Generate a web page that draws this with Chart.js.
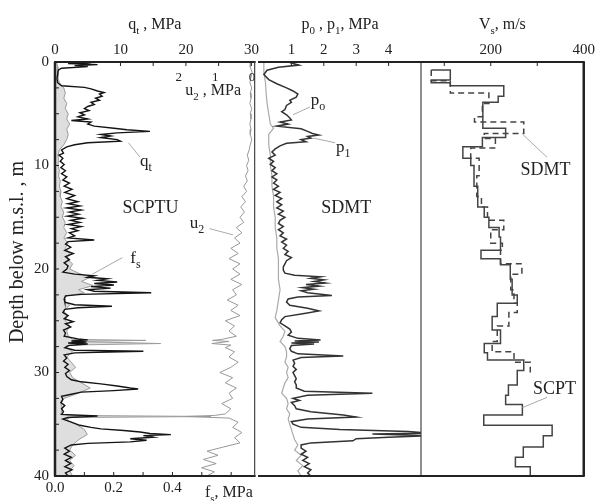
<!DOCTYPE html>
<html>
<head>
<meta charset="utf-8">
<script src="https://cdn.jsdelivr.net/npm/chart.js@4.4.1/dist/chart.umd.min.js"></script>
<style>
  html, body { margin: 0; padding: 0; background: #fff; }
  #wrap { position: relative; width: 598px; height: 501px; overflow: hidden; }
  #wrap canvas { position: absolute; top: 0; }
</style>
</head>
<body>
<div id="wrap">
  <canvas id="cptu" width="262" height="501" style="left:0"></canvas>
  <canvas id="dmt" width="170" height="501" style="left:255px"></canvas>
  <canvas id="vs" width="181" height="501" style="left:417px"></canvas>
</div>
<script>
// depth below m.s.l. (m)
const depthMarks = [0, 2.5, 5, 7.5, 10, 12.5, 15, 17.5, 20, 22.5, 25, 27.5, 30, 32.5, 35, 37.5, 40]
const depthLabels = [0, 10, 20, 30, 40]

// SCPTU: cone resistance qt (MPa)
const qtDepth = [0.05, 0.15, 0.25, 0.35, 0.45, 0.6, 0.8, 1.2, 1.6, 2.0, 2.3, 2.45, 2.6, 2.8, 2.95, 3.1, 3.3, 3.5, 3.7, 3.9,
  4.1, 4.3, 4.5, 4.7, 4.9, 5.1, 5.3, 5.5, 5.65, 5.8, 6.0, 6.2, 6.4, 6.55, 6.7, 6.85, 7.0, 7.15, 7.3, 7.5,
  7.65, 7.8, 8.0, 8.2, 8.5, 8.8, 9.0, 9.3, 9.6, 9.9, 10.2, 10.5, 10.8, 11.1, 11.4, 11.7, 12.0, 12.3, 12.6, 12.9,
  13.2, 13.5, 13.7, 13.9, 14.1, 14.3, 14.5, 14.7, 14.9, 15.1, 15.3, 15.5, 15.7, 15.9, 16.1, 16.3, 16.5, 16.8, 17.0, 17.2,
  17.35, 17.6, 17.9, 18.2, 18.5, 18.8, 19.1, 19.4, 19.7, 20.0, 20.3, 20.5, 20.65, 20.8, 20.95, 21.1, 21.25, 21.4, 21.55, 21.7,
  21.85, 22.0, 22.15, 22.3, 22.45, 22.6, 22.9, 23.2, 23.45, 23.6, 23.75, 23.9, 24.2, 24.5, 24.8, 25.1, 25.3, 25.6, 25.9, 26.2,
  26.5, 26.75, 26.85, 26.95, 27.05, 27.15, 27.25, 27.4, 27.6, 27.85, 27.95, 28.1, 28.3, 28.6, 28.9, 29.2, 29.5, 29.8, 30.1, 30.4,
  30.7, 30.9, 31.1, 31.3, 31.5, 31.6, 31.75, 31.9, 32.1, 32.3, 32.6, 32.9, 33.2, 33.5, 33.8, 34.05, 34.2, 34.35, 34.5, 34.8,
  35.1, 35.3, 35.45, 35.6, 35.75, 35.9, 36.0, 36.1, 36.25, 36.4, 36.55, 36.7, 36.85, 37.0, 37.3, 37.6, 37.9, 38.2, 38.5, 38.8,
  39.1, 39.4, 39.7, 40.0]
const qtValue = [5.5, 2.0, 6.5, 3.0, 5.0, 1.0, 0.5, 0.4, 0.3, 0.4, 1.0, 4.5, 5.5, 6.5, 7.5, 6.8, 7.2, 6.2, 6.8, 5.5,
  6.0, 5.0, 4.5, 5.2, 3.8, 4.5, 3.5, 5.0, 2.5, 5.5, 5.0, 6.0, 9.0, 11.0, 14.5, 9.5, 7.0, 8.5, 7.0, 9.5,
  10.0, 5.0, 3.0, 1.8, 1.0, 1.3, 0.6, 1.2, 0.8, 1.4, 0.9, 1.6, 1.0, 1.8, 1.2, 2.2, 1.4, 2.6, 1.5, 3.0,
  1.8, 3.5, 2.0, 3.8, 1.8, 4.0, 2.2, 3.6, 1.9, 4.2, 2.4, 3.8, 2.0, 4.0, 2.5, 3.5, 2.2, 3.0, 2.0, 6.0,
  2.0, 1.6, 2.4, 1.5, 2.8, 1.6, 2.2, 1.4, 2.0, 1.8, 1.2, 3.0, 6.0, 5.0, 8.0, 6.5, 9.5, 6.0, 9.0, 5.5,
  8.5, 5.0, 6.0, 14.7, 4.0, 1.6, 1.4, 1.5, 3.0, 8.7, 3.5, 1.5, 1.2, 2.0, 1.4, 2.8, 1.6, 2.4, 1.3, 1.6,
  1.4, 3.5, 5.0, 2.5, 4.8, 2.0, 5.0, 2.0, 1.5, 3.0, 13.5, 3.0, 1.4, 1.8, 1.3, 2.0, 1.5, 2.2, 1.6, 1.8,
  2.5, 4.0, 7.0, 9.5, 11.5, 12.7, 9.0, 4.0, 2.5, 1.0, 1.2, 0.9, 1.5, 1.0, 1.3, 1.0, 6.5, 2.0, 1.2, 2.5,
  3.8, 5.5, 7.0, 10.5, 13.0, 14.5, 17.7, 13.5, 15.0, 11.5, 14.0, 11.5, 5.0, 2.5, 1.5, 2.2, 1.4, 2.5, 1.6, 2.4,
  1.5, 2.6, 1.6, 2.0]

// SCPTU: sleeve friction fs (MPa)
const fsDepth = [0, 0.5, 1, 1.5, 2, 2.5, 3, 3.5, 4, 4.5, 5, 5.5, 6, 6.5, 7, 7.5, 8, 8.5, 9, 9.5,
  10, 10.5, 11, 11.5, 12, 12.5, 13, 13.5, 14, 14.5, 15, 15.5, 16, 16.5, 17, 17.5, 18, 18.5, 19, 19.5,
  20, 20.4, 20.8, 21.2, 21.6, 22, 22.3, 22.6, 23, 23.5, 24, 24.5, 25, 25.5, 26, 26.5, 26.8, 26.9, 27, 27.2,
  27.35, 27.6, 28, 28.5, 29, 29.5, 30, 30.5, 31, 31.5, 32, 32.5, 33, 33.5, 34, 34.15, 34.25, 34.35, 34.6, 35,
  35.5, 36, 36.5, 37, 37.5, 38, 38.5, 39, 39.5, 40]
const fsValue = [0.005, 0.01, 0.01, 0.01, 0.015, 0.03, 0.035, 0.03, 0.04, 0.035, 0.045, 0.04, 0.05, 0.04, 0.045, 0.04, 0.03, 0.015, 0.01, 0.012,
  0.01, 0.015, 0.012, 0.018, 0.015, 0.02, 0.018, 0.025, 0.02, 0.03, 0.025, 0.035, 0.03, 0.04, 0.03, 0.045, 0.035, 0.05, 0.04, 0.06,
  0.05, 0.08, 0.12, 0.09, 0.13, 0.08, 0.1, 0.04, 0.03, 0.05, 0.03, 0.04, 0.035, 0.05, 0.04, 0.045, 0.06, 0.31, 0.06, 0.36,
  0.05, 0.04, 0.06, 0.04, 0.055, 0.07, 0.05, 0.06, 0.09, 0.12, 0.08, 0.03, 0.02, 0.025, 0.02, 0.05, 0.53, 0.05, 0.04, 0.07,
  0.1, 0.11, 0.08, 0.06, 0.05, 0.07, 0.05, 0.065, 0.05, 0.06]

// SCPTU: pore pressure u2 (MPa)
const u2Depth = [0, 0.5, 1, 1.5, 2, 2.5, 3, 3.5, 4, 4.5, 5, 5.5, 6, 6.5, 7, 7.5, 8, 8.5, 9, 9.5,
  10, 10.5, 11, 11.5, 12, 12.5, 13, 13.5, 14, 14.5, 15, 15.5, 16, 16.5, 17, 17.5, 18, 18.5, 19, 19.5,
  20, 20.5, 21, 21.5, 22, 22.5, 23, 23.5, 24, 24.5, 25, 25.5, 26, 26.5, 26.8, 26.9, 27, 27.2, 27.35, 27.6,
  28, 28.5, 29, 29.5, 30, 30.5, 31, 31.5, 32, 32.5, 33, 33.5, 34, 34.15, 34.25, 34.4, 34.8, 35.3, 35.8, 36.3,
  36.8, 37.2, 37.6, 38, 38.4, 38.8, 39.2, 39.6, 40]
const u2Value = [0.0, 0.02, -0.03, 0.0, 0.03, -0.02, 0.02, 0.0, 0.03, -0.02, 0.02, 0.0, 0.03, 0.0, 0.02, -0.02, 0.02, 0.05, 0.1, 0.06,
  0.12, 0.08, 0.15, 0.1, 0.2, 0.12, 0.25, 0.15, 0.28, 0.18, 0.3, 0.2, 0.4, 0.25, 0.45, 0.3, 0.55, 0.35, 0.6, 0.3,
  0.5, 0.3, 0.55, 0.25, 0.5, 0.4, 0.65, 0.35, 0.55, 0.3, 0.7, 0.45, 0.6, 0.4, 0.8, 1.05, 0.6, 1.07, 0.55, 0.7,
  0.45, 0.6, 0.35, 0.55, 0.85, 0.5, 0.7, 0.4, 0.6, 0.5, 0.8, 0.55, 0.7, 1.0, 1.8, 0.6, 0.35, 0.5, 0.25, 0.45,
  0.3, 0.75, 1.2, 0.9, 1.3, 0.95, 1.35, 1.0, 1.2]

// SDMT: corrected readings p0 and p1 (MPa)
const p0Depth = [0, 1, 2, 3, 4, 5, 6, 6.4, 7, 8, 9, 10, 11, 12, 13, 14, 15, 16, 17, 18,
  19, 20, 21, 22, 23, 24, 24.7, 25.5, 26, 26.5, 27, 27.5, 28, 28.5, 29, 29.5, 30, 30.5, 31, 31.5,
  32, 32.5, 33, 33.5, 34, 34.5, 35, 35.5, 36, 36.5, 37, 37.5, 38, 38.5, 39, 39.5, 40]
const p0Value = [0.15, 0.15, 0.2, 0.22, 0.25, 0.3, 0.35, 0.45, 0.3, 0.3, 0.35, 0.35, 0.4, 0.4, 0.45, 0.45, 0.5, 0.5, 0.55, 0.55,
  0.6, 0.6, 0.6, 0.65, 0.6, 0.55, 0.5, 0.65, 0.8, 0.75, 0.65, 0.8, 0.85, 0.85, 0.8, 0.9, 0.85, 0.9, 0.8, 0.75,
  0.7, 0.85, 0.9, 0.85, 0.95, 0.9, 0.95, 1.0, 1.05, 1.1, 1.2, 1.1, 1.3, 1.15, 1.35, 1.2, 1.3]

const p1Depth = [0, 0.3, 0.5, 0.8, 1.2, 1.7, 2.1, 2.5, 2.8, 3.1, 3.4, 3.7, 3.9, 4.2, 4.6, 4.8, 5.1, 5.4, 5.6, 5.8,
  6.0, 6.2, 6.45, 6.7, 6.9, 7.05, 7.2, 7.35, 7.5, 7.7, 7.85, 8.1, 8.4, 8.7, 9.0, 9.3, 9.6, 9.9, 10.2, 10.5,
  10.8, 11.1, 11.4, 11.7, 12.0, 12.3, 12.6, 12.9, 13.2, 13.5, 13.8, 14.1, 14.4, 14.7, 15.0, 15.3, 15.6, 15.9, 16.2, 16.5,
  16.8, 17.1, 17.4, 17.7, 18.0, 18.3, 18.6, 18.9, 19.2, 19.5, 19.8, 20.1, 20.4, 20.6, 20.75, 20.9, 21.05, 21.2, 21.35, 21.5,
  21.65, 21.8, 21.95, 22.1, 22.3, 22.55, 22.7, 22.9, 23.2, 23.5, 23.8, 24.05, 24.3, 24.6, 24.9, 25.2, 25.5, 25.8, 26.1, 26.4,
  26.7, 26.85, 26.95, 27.05, 27.15, 27.25, 27.4, 27.7, 27.95, 28.2, 28.4, 28.55, 28.8, 29.1, 29.4, 29.7, 30.0, 30.3, 30.6, 30.9,
  31.2, 31.5, 31.8, 32.0, 32.2, 32.5, 32.7, 32.9, 33.2, 33.5, 33.8, 34.1, 34.3, 34.5, 34.75, 35.0, 35.3, 35.5, 35.7, 35.85,
  35.95, 36.1, 36.25, 36.4, 36.6, 36.8, 37.0, 37.3, 37.6, 37.9, 38.2, 38.5, 38.8, 39.1, 39.4, 39.7, 40.0]
const p1Value = [0.9, 1.23, 0.6, 0.25, 0.15, 0.3, 0.55, 0.85, 1.05, 1.2, 1.15, 0.95, 1.0, 0.85, 0.8, 0.7, 0.85, 0.95, 1.0, 0.65,
  0.9, 0.55, 1.3, 1.5, 1.65, 1.85, 1.5, 1.6, 1.3, 1.45, 0.85, 0.65, 0.5, 0.4, 0.5, 0.3, 0.45, 0.35, 0.5, 0.4,
  0.55, 0.4, 0.55, 0.45, 0.6, 0.45, 0.65, 0.5, 0.7, 0.55, 0.7, 0.55, 0.75, 0.6, 0.8, 0.65, 0.6, 0.75, 0.6, 0.75,
  0.65, 0.85, 0.7, 0.85, 0.75, 0.9, 0.8, 1.0, 0.85, 0.8, 0.75, 0.75, 0.8, 1.1, 1.9, 1.6, 2.0, 1.7, 2.05, 1.45,
  1.85, 1.35, 1.7, 1.3, 1.5, 2.25, 1.2, 0.9, 0.85, 0.95, 1.5, 1.85, 1.4, 0.8, 0.7, 0.65, 0.8, 0.95, 1.0, 0.9,
  1.2, 1.9, 1.1, 1.85, 1.0, 1.7, 1.0, 0.95, 1.0, 1.2, 2.6, 1.3, 1.05, 1.1, 1.05, 1.15, 1.05, 1.1, 1.15, 1.1,
  1.15, 1.15, 1.4, 3.5, 1.5, 1.05, 1.25, 1.0, 1.1, 1.15, 1.6, 2.6, 3.0, 1.5, 1.0, 1.05, 1.3, 2.5, 4.6, 5.2,
  3.5, 5.2, 4.0, 3.0, 2.9, 1.6, 1.3, 1.3, 1.45, 1.3, 1.5, 1.35, 1.55, 1.4, 1.6, 1.5, 1.6]

// shear wave velocity Vs (m/s) by layer: tops has one more entry (profile base) than values
const scptTop = [0.77, 0.77, 1.75, 2.0, 2.3, 3.3, 3.9, 6.4, 7.3, 8.2, 9.3, 10.0, 12.0, 14.0, 15.0, 16.0, 16.9, 18.2, 19.0, 19.6,
  21.0, 22.5, 23.3, 24.6, 25.9, 27.2, 28.1, 28.8, 29.8, 31.2, 32.2, 33.1, 34.1, 35.1, 36.1, 37.2, 38.2, 39.1, 40.0]
const scptVs = [72, 113, 72, 113, 228, 216, 183, 232, 182, 140, 157, 164, 172, 186, 196, 218, 221, 179, 221, 242,
  246, 257, 214, 203, 221, 186, 193, 271, 257, 238, 232, 268, 185, 332, 313, 270, 253, 285]

const sdmtTop = [0.77, 1.8, 3.0, 4.0, 5.3, 5.8, 6.9, 7.4, 8.3, 9.3, 11.0, 13.0, 14.0, 15.3, 16.2, 17.5, 18.2, 19.5, 20.5, 22.0,
  23.3, 24.2, 25.5, 27.0, 28.0, 29.0, 30.0]
const sdmtVs = [72, 113, 196, 182, 165, 271, 186, 210, 157, 175, 170, 180, 193, 228, 200, 225, 221, 267, 243, 250,
  257, 239, 214, 203, 250, 285]

// axis tick positions and labels
const qtMarks = [0, 5, 10, 15, 20, 25, 30]
const qtLabels = [0, 10, 20, 30]
const fsMarks = [0, 0.1, 0.2, 0.3, 0.4, 0.5, 0.6]
const fsLabels = [0, 0.2, 0.4]
const u2Labels = [2, 1, 0]
const pMarks = [1, 2, 3, 4]
const pLabels = [1, 2, 3, 4]
const vsMarks = [100, 200, 300, 400]
const vsLabels = [200, 400]

const serif = '"Liberation Serif", "Times New Roman", "DejaVu Serif", serif'
const ink = '#222'

const profile = (depth, values) => values.map((v, i) => ({ x: v, y: depth[i] }))

function layers (tops, values) {
  const pts = values.map((v, i) => ({ x: v, y: tops[i] }))
  pts.push({ x: values[values.length - 1], y: tops[tops.length - 1] })
  return pts
}

// text with subscripts: plain strings, or [string] for a subscript
function drawRich (ctx, parts, x, y, size, align) {
  const segs = parts.map((p) => Array.isArray(p)
    ? { t: p[0], f: Math.round(size * 0.7), dy: size * 0.3 }
    : { t: p, f: size, dy: 0 })
  let w = 0
  segs.forEach((s) => {
    ctx.font = `${s.f}px ${serif}`
    s.w = ctx.measureText(s.t).width
    w += s.w
  })
  let cx = align === 'center' ? x - w / 2 : x
  ctx.textAlign = 'left'
  ctx.textBaseline = 'alphabetic'
  segs.forEach((s) => {
    ctx.font = `${s.f}px ${serif}`
    ctx.fillText(s.t, cx, y + s.dy)
    cx += s.w
  })
}

// frame, inward tick marks, titles and labelled notes
const notesPlugin = {
  id: 'notes',
  afterDatasetsDraw (chart, args, opts) {
    const { ctx, chartArea: a, scales } = chart
    ctx.save()
    ctx.fillStyle = ink
    ctx.strokeStyle = ink

    // inward ticks
    ctx.lineWidth = 1
    ;(opts.ticks || []).forEach(({ id, side }) => {
      const s = scales[id]
      s.ticks.forEach((t) => {
        const p = s.getPixelForValue(t.value)
        ctx.beginPath()
        if (side === 'top') { ctx.moveTo(p, a.top); ctx.lineTo(p, a.top + 4) }
        if (side === 'bottom') { ctx.moveTo(p, a.bottom); ctx.lineTo(p, a.bottom - 4) }
        if (side === 'left') { ctx.moveTo(a.left, p); ctx.lineTo(a.left + 4, p) }
        ctx.stroke()
      })
    })

    // frame
    const f = opts.frame
    const edge = (w, x1, y1, x2, y2, c) => {
      if (!w) return
      ctx.lineWidth = w
      ctx.strokeStyle = c || ink
      ctx.beginPath(); ctx.moveTo(x1, y1); ctx.lineTo(x2, y2); ctx.stroke()
    }
    edge(f.top, a.left - 1, a.top, a.right + 1, a.top)
    edge(f.bottom, a.left - 1, a.bottom, a.right + 1, a.bottom)
    edge(f.left, a.left, a.top, a.left, a.bottom, f.leftColor)
    edge(f.right, a.right, a.top, a.right, a.bottom, f.rightColor)

    // leader lines
    ctx.strokeStyle = '#aaa'
    ctx.lineWidth = 1
    ;(opts.leaders || []).forEach(({ axis, from, to }) => {
      const s = scales[axis]
      ctx.beginPath()
      ctx.moveTo(s.getPixelForValue(from[0]), scales.y.getPixelForValue(from[1]))
      ctx.lineTo(s.getPixelForValue(to[0]), scales.y.getPixelForValue(to[1]))
      ctx.stroke()
    })

    // labels placed at (value, depth)
    ctx.fillStyle = ink
    ;(opts.labels || []).forEach(({ parts, axis, at, size, align }) => {
      const x = scales[axis].getPixelForValue(at[0])
      const y = scales.y.getPixelForValue(at[1])
      drawRich(ctx, parts, x, y, size, align)
    })

    // axis titles
    ;(opts.titles || []).forEach(({ parts, x, y, size, align }) => {
      drawRich(ctx, parts, x === 'center' ? (a.left + a.right) / 2 : x, y, size, align)
    })

    if (opts.inner) {
      const s = scales[opts.inner.axis]
      ctx.font = `13px ${serif}`
      ctx.textAlign = 'center'
      opts.inner.labels.forEach((v) => {
        ctx.fillText(String(v), s.getPixelForValue(v) + 1, a.top + 19)
      })
    }

    if (opts.depthTitle) {
      ctx.translate(18, 252)
      ctx.rotate(-Math.PI / 2)
      ctx.font = `20px ${serif}`
      ctx.textAlign = 'center'
      ctx.textBaseline = 'middle'
      ctx.fillText(opts.depthTitle, 0, 0)
    }
    ctx.restore()
  }
}

const tickFont = { family: serif, size: 15 }

function depthAxis (show) {
  return {
    type: 'linear',
    position: 'left',
    reverse: true,
    min: 0,
    max: 40,
    display: show,
    grid: { display: false, drawTicks: false },
    border: { display: false },
    ticks: {
      autoSkip: false,
      padding: 6,
      color: ink,
      font: tickFont,
      callback: (v) => (depthLabels.includes(v) ? String(v) : '')
    },
    afterBuildTicks: (s) => { s.ticks = depthMarks.map((v) => ({ value: v })) },
    afterFit: (s) => { if (show) s.width = 55 }
  }
}

function valueAxis (position, min, max, marks, labels, digits, reverse) {
  return {
    type: 'linear',
    position,
    min,
    max,
    reverse: !!reverse,
    grid: { display: false, drawTicks: false },
    border: { display: false },
    ticks: {
      autoSkip: false,
      maxRotation: 0,
      padding: 3,
      color: ink,
      font: tickFont,
      callback: (v) => (labels.includes(v) ? v.toFixed(digits) : '')
    },
    afterBuildTicks: (s) => { s.ticks = marks.map((v) => ({ value: v })) },
    afterFit: (s) => { s.height = position === 'top' ? 62 : 25 }
  }
}

const lineStyle = { pointRadius: 0, pointHoverRadius: 0, tension: 0, fill: false }

const common = {
  type: 'line',
  plugins: [notesPlugin]
}

const baseOptions = {
  responsive: false,
  animation: false,
  devicePixelRatio: 1,
  indexAxis: 'y',
  events: [],
  plugins: { legend: { display: false }, tooltip: { enabled: false } }
}

// SCPTU panel: qt, fs and u2 against depth
new Chart(document.getElementById('cptu'), {
  ...common,
  data: {
    datasets: [
      { ...lineStyle, label: 'qt', data: profile(qtDepth, qtValue), xAxisID: 'qt', borderColor: '#141414', borderWidth: 1.4 },
      { ...lineStyle, label: 'u2', data: profile(u2Depth, u2Value), xAxisID: 'u2', borderColor: '#999', borderWidth: 1 },
      {
        ...lineStyle,
        label: 'fs',
        data: profile(fsDepth, fsValue),
        xAxisID: 'fs',
        borderColor: '#9c9c9c',
        borderWidth: 1,
        backgroundColor: '#dedede',
        fill: 'origin'
      }
    ]
  },
  options: {
    ...baseOptions,
    layout: { padding: { left: 0, right: 3, top: 0, bottom: 0 } },
    scales: {
      y: depthAxis(true),
      qt: valueAxis('top', 0, 30.5, qtMarks, qtLabels, 0),
      fs: valueAxis('bottom', 0, 0.68, fsMarks, fsLabels, 1),
      u2: { type: 'linear', position: 'top', display: false, min: -0.1, max: 5.35, reverse: true }
    },
    plugins: {
      ...baseOptions.plugins,
      notes: {
        frame: { top: 2, bottom: 2, left: 2.5, right: 1.2, rightColor: '#444' },
        ticks: [{ id: 'qt', side: 'top' }, { id: 'fs', side: 'bottom' }, { id: 'y', side: 'left' }],
        titles: [
          { parts: ['q', ['t'], ' , MPa'], x: 'center', y: 29, size: 16, align: 'center' },
          { parts: ['f', ['s'], ', MPa'], x: 205, y: 497, size: 16, align: 'left' }
        ],
        inner: { axis: 'u2', labels: u2Labels },
        labels: [
          { parts: ['u', ['2'], ' , MPa'], axis: 'qt', at: [19.9, 3.2], size: 16, align: 'left' },
          { parts: ['SCPTU'], axis: 'qt', at: [14.6, 14.6], size: 18, align: 'center' },
          { parts: ['q', ['t']], axis: 'qt', at: [13.0, 10.05], size: 17, align: 'left' },
          { parts: ['u', ['2']], axis: 'qt', at: [20.6, 16.0], size: 17, align: 'left' },
          { parts: ['f', ['s']], axis: 'qt', at: [11.5, 19.4], size: 17, align: 'left' }
        ],
        leaders: [
          { axis: 'qt', from: [11.2, 7.8], to: [13.0, 9.2] },
          { axis: 'qt', from: [23.6, 16.1], to: [27.2, 16.7] },
          { axis: 'qt', from: [10.3, 18.9], to: [5.7, 20.5] }
        ],
        depthTitle: 'Depth below m.s.l. , m'
      }
    }
  }
})

// SDMT panel: p0 and p1 against depth
new Chart(document.getElementById('dmt'), {
  ...common,
  data: {
    datasets: [
      { ...lineStyle, label: 'p1', data: profile(p1Depth, p1Value), xAxisID: 'p', borderColor: '#333', borderWidth: 1.5 },
      { ...lineStyle, label: 'p0', data: profile(p0Depth, p0Value), xAxisID: 'p', borderColor: '#aaa', borderWidth: 1.2 }
    ]
  },
  options: {
    ...baseOptions,
    layout: { padding: { left: 4, right: 4, top: 0, bottom: 25 } },
    scales: {
      y: depthAxis(false),
      p: valueAxis('top', 0, 5, pMarks, pLabels, 0)
    },
    plugins: {
      ...baseOptions.plugins,
      notes: {
        frame: { top: 2, bottom: 2, left: 0, right: 1.2, rightColor: '#444' },
        ticks: [{ id: 'p', side: 'top' }],
        titles: [
          { parts: ['p', ['0'], ' , p', ['1'], ', MPa'], x: 'center', y: 29, size: 16, align: 'center' }
        ],
        labels: [
          { parts: ['SDMT'], axis: 'p', at: [2.69, 14.6], size: 18, align: 'center' },
          { parts: ['p', ['o']], axis: 'p', at: [1.6, 4.15], size: 17, align: 'left' },
          { parts: ['p', ['1']], axis: 'p', at: [2.38, 8.7], size: 17, align: 'left' }
        ],
        leaders: [
          { axis: 'p', from: [1.57, 4.35], to: [1.05, 5.1] },
          { axis: 'p', from: [2.35, 7.8], to: [1.67, 7.35] }
        ]
      }
    }
  }
})

// shear wave velocity panel: SCPT and SDMT layer profiles
new Chart(document.getElementById('vs'), {
  ...common,
  data: {
    datasets: [
      { ...lineStyle, label: 'SCPT', data: layers(scptTop, scptVs), xAxisID: 'vs', stepped: 'after', borderColor: '#444', borderWidth: 1.5 },
      { ...lineStyle, label: 'SDMT', data: layers(sdmtTop, sdmtVs), xAxisID: 'vs', stepped: 'after', borderColor: '#444', borderWidth: 1.5, borderDash: [6, 4] }
    ]
  },
  options: {
    ...baseOptions,
    layout: { padding: { left: 4, right: 14, top: 0, bottom: 25 } },
    scales: {
      y: depthAxis(false),
      vs: valueAxis('top', 50, 400, vsMarks, vsLabels, 0)
    },
    plugins: {
      ...baseOptions.plugins,
      notes: {
        frame: { top: 2, bottom: 2, left: 0, right: 2.5 },
        ticks: [{ id: 'vs', side: 'top' }],
        titles: [
          { parts: ['V', ['s'], ', m/s'], x: 'center', y: 29, size: 16, align: 'center' }
        ],
        labels: [
          { parts: ['SDMT'], axis: 'vs', at: [264, 10.9], size: 18, align: 'left' },
          { parts: ['SCPT'], axis: 'vs', at: [291, 32.1], size: 18, align: 'left' }
        ],
        leaders: [
          { axis: 'vs', from: [321, 9.2], to: [270, 7.05] },
          { axis: 'vs', from: [321, 32.4], to: [268, 33.4] }
        ]
      }
    }
  }
})
</script>
</body>
</html>
